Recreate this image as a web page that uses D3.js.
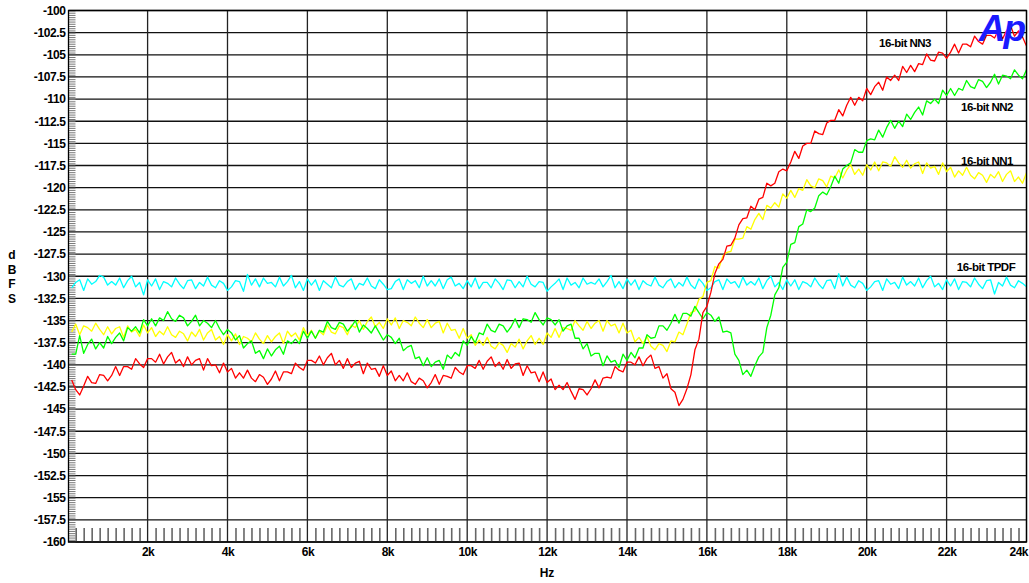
<!DOCTYPE html>
<html>
<head>
<meta charset="utf-8">
<script src="https://cdn.jsdelivr.net/npm/d3@7"></script>
<style>
  html, body { margin: 0; padding: 0; background: #fff; }
  svg { display: block; }
  text { font-family: "Liberation Sans", Arial, sans-serif; font-weight: bold; fill: #000; }
</style>
</head>
<body>
<svg id="chart" width="1029" height="583"></svg>
<script>
// ---------- data ----------
const freqHz = d3.range(100, 24001, 100); // sample frequencies (Hz), 240 points

const yTickLabels = ["-100","-102.5","-105","-107.5","-110","-112.5","-115","-117.5","-120","-122.5","-125","-127.5","-130","-132.5","-135","-137.5","-140","-142.5","-145","-147.5","-150","-152.5","-155","-157.5","-160"];
const xTickValues = [2000,4000,6000,8000,10000,12000,14000,16000,18000,20000,22000,24000];
const xTickLabels = ["2k","4k","6k","8k","10k","12k","14k","16k","18k","20k","22k","24k"];

const nn3 = [
-141.7,-142.8,-143.4,-142.4,-141.3,-142.0,-142.1,-141.1,-141.2,-141.8,
-141.2,-140.2,-141.2,-140.2,-140.2,-140.5,-139.3,-139.9,-140.3,-139.3,
-139.3,-139.7,-138.8,-139.9,-139.1,-138.6,-139.8,-139.4,-140.2,-139.1,
-140.0,-139.5,-139.3,-140.6,-139.3,-140.1,-140.0,-140.9,-139.8,-140.8,
-140.4,-141.5,-140.9,-141.5,-140.6,-141.5,-141.9,-141.1,-141.4,-142.2,
-141.6,-140.7,-141.8,-140.8,-140.8,-141.0,-139.8,-140.3,-140.6,-139.5,
-139.5,-139.8,-139.0,-140.0,-139.2,-138.7,-140.0,-139.5,-140.4,-139.3,
-140.3,-139.8,-139.6,-141.0,-139.8,-140.5,-140.4,-141.3,-140.1,-141.2,
-140.7,-141.8,-141.2,-141.8,-140.9,-141.9,-142.2,-141.5,-141.8,-142.6,
-142.0,-141.1,-142.2,-141.2,-141.3,-141.5,-140.3,-140.8,-141.1,-140.1,
-140.1,-140.4,-139.5,-140.5,-139.6,-139.1,-140.2,-139.7,-140.5,-139.4,
-140.4,-139.9,-139.8,-141.2,-140.1,-140.9,-140.8,-141.9,-140.8,-142.0,
-141.6,-142.8,-142.3,-142.8,-142.0,-143.0,-143.9,-142.7,-142.8,-143.4,
-142.7,-141.7,-142.6,-141.5,-141.4,-141.5,-140.2,-140.6,-140.8,-139.7,
-139.7,-140.0,-139.1,-140.1,-139.3,-138.9,-140.4,-140.2,-141.5,-141.0,
-142.7,-143.1,-144.6,-143.9,-142.7,-141.1,-138.3,-137.1,-134.1,-133.4,
-131.8,-129.7,-128.6,-128.1,-126.6,-126.5,-125.7,-124.2,-123.5,-123.4,
-122.1,-122.5,-121.3,-121.1,-119.5,-119.8,-119.5,-118.2,-117.9,-118.1,
-117.1,-115.9,-116.7,-115.3,-115.0,-115.0,-113.6,-113.9,-114.0,-112.7,
-112.4,-112.4,-111.2,-111.9,-110.7,-109.8,-110.7,-109.8,-110.2,-108.8,
-109.5,-108.6,-108.1,-109.0,-107.5,-107.9,-107.3,-107.9,-106.3,-107.0,
-106.2,-106.9,-106.0,-106.1,-104.9,-105.6,-105.7,-104.7,-104.8,-105.4,
-104.7,-103.8,-104.8,-103.8,-103.8,-104.1,-102.9,-103.5,-103.8,-102.8,
-102.8,-103.1,-102.2,-103.2,-102.3,-101.7,-102.9,-102.3,-103.0,-104.0
];

const nn2 = [
-138.8,-138.8,-136.7,-138.7,-137.7,-137.1,-138.2,-137.5,-138.1,-136.8,
-137.6,-136.9,-136.4,-137.3,-135.8,-136.2,-135.7,-136.4,-134.9,-135.6,
-134.8,-135.6,-134.7,-135.0,-134.0,-134.8,-135.1,-134.4,-134.7,-135.6,
-135.1,-134.4,-135.6,-135.0,-135.3,-135.8,-135.0,-135.9,-136.6,-136.0,
-136.4,-137.2,-136.7,-138.1,-137.6,-137.3,-138.7,-138.4,-139.3,-138.2,
-139.0,-138.3,-137.9,-138.8,-137.3,-137.6,-137.1,-137.6,-136.2,-137.0,
-136.2,-137.0,-136.1,-136.3,-135.1,-135.8,-136.0,-135.2,-135.4,-136.2,
-135.7,-135.0,-136.3,-135.5,-135.9,-136.4,-135.6,-136.4,-137.2,-136.6,
-136.9,-137.6,-137.0,-138.4,-138.0,-137.8,-139.3,-139.1,-140.1,-139.2,
-140.2,-139.7,-139.5,-140.5,-138.9,-139.3,-138.6,-139.0,-137.3,-137.8,
-136.8,-137.5,-136.4,-136.6,-135.4,-136.1,-136.3,-135.4,-135.6,-136.3,
-135.7,-134.8,-135.8,-134.8,-134.9,-135.2,-134.1,-134.9,-135.5,-134.7,
-134.9,-135.5,-134.9,-136.2,-135.6,-135.4,-137.0,-137.0,-138.2,-137.6,
-139.0,-138.7,-138.7,-140.1,-139.0,-139.7,-139.5,-140.3,-138.8,-139.5,
-138.6,-139.2,-138.1,-138.1,-136.6,-137.0,-136.9,-135.6,-135.6,-136.1,
-135.3,-134.3,-135.3,-134.2,-134.2,-134.5,-133.4,-134.1,-134.8,-134.1,
-134.4,-135.1,-134.6,-136.3,-136.2,-136.4,-138.8,-139.5,-141.1,-140.6,
-141.3,-140.1,-139.1,-138.6,-135.8,-134.4,-132.1,-131.3,-129.0,-128.4,
-126.4,-126.2,-124.4,-124.1,-122.5,-122.7,-122.3,-120.9,-120.5,-120.8,
-119.9,-118.7,-119.5,-117.9,-117.5,-117.2,-115.7,-116.0,-116.0,-114.7,
-114.5,-114.6,-113.5,-114.3,-113.2,-112.4,-113.3,-112.5,-113.1,-111.7,
-112.3,-111.5,-110.9,-111.8,-110.2,-110.5,-110.0,-110.5,-109.0,-109.6,
-108.8,-109.6,-108.8,-109.0,-107.9,-108.6,-108.8,-107.8,-108.0,-108.7,
-108.1,-107.2,-108.3,-107.3,-107.4,-107.7,-106.7,-107.3,-107.7,-106.7
];

const nn1 = [
-136.3,-135.4,-136.6,-135.6,-135.8,-136.2,-135.3,-136.0,-136.6,-135.7,
-136.5,-135.9,-135.7,-136.9,-135.6,-136.3,-136.0,-136.8,-135.5,-136.4,
-135.8,-136.8,-136.2,-136.6,-135.7,-136.6,-136.9,-136.2,-136.5,-137.3,
-136.3,-136.8,-136.0,-137.2,-136.4,-136.0,-137.2,-136.8,-137.7,-136.6,
-137.3,-136.5,-137.7,-136.8,-137.0,-137.4,-136.4,-137.1,-137.6,-136.7,
-137.4,-136.8,-136.4,-137.6,-136.2,-136.8,-136.4,-137.2,-135.8,-136.7,
-136.1,-137.0,-136.2,-136.6,-135.5,-136.3,-136.5,-135.6,-135.8,-136.6,
-135.5,-135.8,-135.0,-136.0,-135.1,-134.6,-135.7,-135.2,-135.9,-134.8,
-135.5,-134.7,-135.9,-135.0,-135.2,-135.6,-134.6,-135.3,-135.8,-134.9,
-135.8,-135.3,-135.1,-136.4,-135.3,-136.1,-136.0,-137.0,-135.9,-137.0,
-136.6,-137.8,-137.2,-137.8,-136.9,-137.9,-138.2,-137.5,-137.8,-138.6,
-137.6,-138.0,-137.1,-138.2,-137.3,-136.7,-137.7,-137.0,-137.7,-136.4,
-136.9,-135.9,-136.9,-135.8,-135.9,-136.1,-135.0,-135.6,-136.1,-135.1,
-135.9,-135.3,-135.0,-136.2,-135.0,-135.6,-135.4,-136.4,-135.3,-136.4,
-136.1,-137.4,-136.9,-137.6,-136.8,-137.9,-138.3,-137.6,-137.8,-138.5,
-137.3,-137.4,-136.3,-136.6,-135.4,-134.1,-133.9,-132.6,-132.3,-130.7,
-130.5,-128.9,-129.1,-127.7,-127.3,-127.2,-125.8,-125.8,-125.7,-124.4,
-124.7,-123.6,-122.9,-123.6,-122.0,-122.3,-121.7,-122.2,-120.7,-121.2,
-120.3,-121.1,-120.1,-120.3,-119.1,-119.8,-120.0,-119.0,-119.2,-119.9,
-118.7,-118.9,-118.0,-118.9,-118.0,-117.4,-118.5,-117.9,-118.6,-117.4,
-118.0,-117.1,-118.1,-117.1,-117.2,-117.6,-116.5,-117.2,-117.7,-116.9,
-117.8,-117.3,-117.1,-118.4,-117.2,-117.8,-117.6,-118.5,-117.2,-118.2,
-117.7,-118.8,-118.1,-118.6,-117.7,-118.6,-119.0,-118.3,-118.6,-119.4,
-118.5,-118.9,-118.2,-119.3,-118.5,-118.1,-119.3,-118.8,-119.5,-118.3
];

const tpdf = [
-131.3,-130.7,-130.4,-131.6,-130.3,-130.9,-130.6,-129.9,-130.1,-131.0,
-130.6,-131.0,-130.2,-131.3,-130.5,-130.0,-131.2,-130.7,-132.1,-130.4,
-131.1,-130.3,-131.5,-130.6,-130.8,-131.2,-130.2,-130.9,-131.4,-130.5,
-130.4,-131.4,-130.7,-131.1,-130.1,-131.0,-131.3,-130.5,-130.8,-131.6,
-131.2,-130.5,-130.6,-131.7,-129.8,-131.0,-130.3,-131.2,-130.2,-130.8,
-130.7,-131.2,-130.1,-131.1,-130.6,-129.9,-131.3,-130.6,-131.6,-130.3,
-131.0,-130.4,-131.6,-130.5,-130.9,-131.3,-130.1,-131.0,-131.2,-130.6,
-130.3,-131.5,-130.8,-131.0,-130.2,-131.1,-131.4,-130.4,-130.9,-131.5,
-131.4,-130.6,-130.3,-131.5,-130.4,-130.8,-130.5,-131.3,-130.0,-131.1,
-130.5,-131.1,-130.3,-131.4,-130.4,-130.1,-131.1,-130.8,-131.4,-130.5,
-131.2,-130.2,-131.4,-130.7,-130.7,-131.3,-130.3,-130.8,-131.5,-130.4,
-130.5,-131.3,-130.6,-131.2,-130.0,-130.9,-131.2,-130.6,-130.7,-131.7,
-131.2,-130.8,-130.3,-131.5,-130.2,-131.0,-130.7,-131.3,-130.2,-130.9,
-130.7,-130.9,-130.3,-131.2,-130.6,-129.9,-131.3,-130.6,-131.4,-130.3,
-131.0,-130.4,-131.5,-130.5,-130.9,-131.1,-130.1,-131.0,-131.3,-130.6,
-130.3,-131.3,-130.7,-131.1,-130.1,-131.0,-131.4,-130.3,-130.8,-131.6,
-131.3,-130.6,-130.4,-131.5,-130.3,-130.8,-130.6,-131.3,-130.1,-131.0,
-130.6,-131.0,-130.2,-131.4,-130.5,-130.0,-131.2,-130.7,-131.5,-130.4,
-131.1,-130.4,-131.5,-130.6,-130.8,-131.2,-130.2,-130.9,-131.4,-130.5,
-130.4,-131.4,-129.7,-131.1,-130.1,-131.0,-131.3,-130.5,-130.8,-131.6,
-131.2,-130.6,-130.5,-131.6,-130.3,-130.9,-130.7,-131.4,-130.1,-131.0,
-130.6,-131.1,-130.2,-131.3,-130.5,-130.0,-131.2,-130.8,-131.5,-130.4,
-131.1,-130.3,-131.5,-130.6,-130.7,-131.2,-130.2,-130.9,-131.4,-130.5,
-130.4,-132.0,-130.7,-131.1,-130.1,-131.0,-131.3,-130.5,-130.8,-131.2
];

const seriesNames = ["16-bit TPDF","16-bit NN1","16-bit NN2","16-bit NN3"];
const seriesColors = ["#00ffff","#ffff00","#00ff00","#ff0000"];
const seriesValues = [tpdf, nn1, nn2, nn3];

// ---------- layout ----------
const svg = d3.select("#chart");
const plotLeft = 68.5, plotRight = 1026.5, plotTop = 10.5, plotBottom = 542;
const x = d3.scaleLinear().domain([20, 24000]).range([plotLeft, plotRight]);
const y = d3.scaleLinear().domain([-160, -100]).range([plotBottom, plotTop]);
const yTickValues = d3.range(-100, -160.01, -2.5);

// grid
const grid = svg.append("g");
grid.selectAll("line.h").data(yTickValues).join("line")
  .attr("x1", plotLeft).attr("x2", plotRight)
  .attr("y1", d => y(d)).attr("y2", d => y(d))
  .attr("stroke", "#111").attr("stroke-width", 1.3);
grid.selectAll("line.v").data(xTickValues).join("line")
  .attr("y1", plotTop).attr("y2", plotBottom)
  .attr("x1", d => x(d)).attr("x2", d => x(d))
  .attr("stroke", "#222").attr("stroke-width", 1.3);

// minor ticks: left axis (dense)
svg.append("g").attr("transform", `translate(${plotLeft},0)`)
  .call(d3.axisRight(y).tickValues(d3.range(-160, -99.99, 0.25)).tickSize(7).tickFormat(""))
  .call(g => g.select(".domain").remove())
  .call(g => g.selectAll("line").attr("stroke", "#777").attr("stroke-width", 1));

// minor ticks: bottom axis every 200 Hz
svg.append("g").attr("transform", `translate(0,${plotBottom})`)
  .call(d3.axisTop(x).tickValues(d3.range(200, 24000, 200).filter(v => v % 2000 !== 0)).tickSize(14).tickFormat(""))
  .call(g => g.select(".domain").remove())
  .call(g => g.selectAll("line").attr("stroke", "#666").attr("stroke-width", 1.6));

// series
const line = d3.line().x((d, i) => x(freqHz[i])).y(d => y(d));
const plot = svg.append("g");
seriesValues.forEach((vals, k) => {
  plot.append("path").datum(vals)
    .attr("fill", "none")
    .attr("stroke", seriesColors[k])
    .attr("stroke-width", 1.3)
    .attr("stroke-linejoin", "round")
    .attr("d", line);
});

// border
svg.append("rect").attr("x", plotLeft).attr("y", plotTop)
  .attr("width", plotRight - plotLeft).attr("height", plotBottom - plotTop)
  .attr("fill", "none").attr("stroke", "#000").attr("stroke-width", 1.3);

// y axis labels
svg.append("g").attr("transform", `translate(${plotLeft},0)`)
  .call(d3.axisLeft(y).tickValues(yTickValues).tickSize(0).tickPadding(3)
    .tickFormat((d, i) => yTickLabels[i]))
  .call(g => g.select(".domain").remove())
  .call(g => g.selectAll("text").attr("font-size", 12).attr("letter-spacing", "-0.4px")
    .attr("font-family", "'Liberation Sans', Arial, sans-serif").attr("font-weight", "bold").attr("fill", "#000"));

// x axis labels
svg.append("g").attr("transform", `translate(0,${plotBottom})`)
  .call(d3.axisBottom(x).tickValues(xTickValues).tickSize(0).tickPadding(5)
    .tickFormat((d, i) => xTickLabels[i]))
  .call(g => g.select(".domain").remove())
  .call(g => g.selectAll("text").attr("font-size", 12).attr("letter-spacing", "-0.5px")
    .attr("font-family", "'Liberation Sans', Arial, sans-serif").attr("font-weight", "bold").attr("fill", "#000"))
  .call(g => g.selectAll(".tick").filter(d => d === 24000).select("text")
    .attr("text-anchor", "end").attr("dx", "1px"));

// axis titles
svg.append("text").attr("x", 547).attr("y", 577).attr("text-anchor", "middle")
  .attr("font-size", 12).text("Hz");
["d","B","F","S"].forEach((c, i) => {
  svg.append("text").attr("x", 12).attr("y", 259 + i * 14.5).attr("text-anchor", "middle")
    .attr("font-size", 12).text(c);
});

// legend labels
const legendPos = [[986, 271], [987, 165], [987, 111], [905, 47]];
seriesNames.forEach((n, k) => {
  svg.append("text").attr("x", legendPos[k][0]).attr("y", legendPos[k][1])
    .attr("text-anchor", "middle").attr("font-size", 11.5).attr("letter-spacing", "-0.5px").text(n);
});

// Ap logo
svg.append("text").attr("x", 1024).attr("y", 41)
  .attr("text-anchor", "end")
  .attr("font-size", 37).attr("font-style", "italic").attr("font-weight", "bold")
  .attr("letter-spacing", "-2px")
  .style("fill", "#1a1aff").text("Ap");
</script>
</body>
</html>
